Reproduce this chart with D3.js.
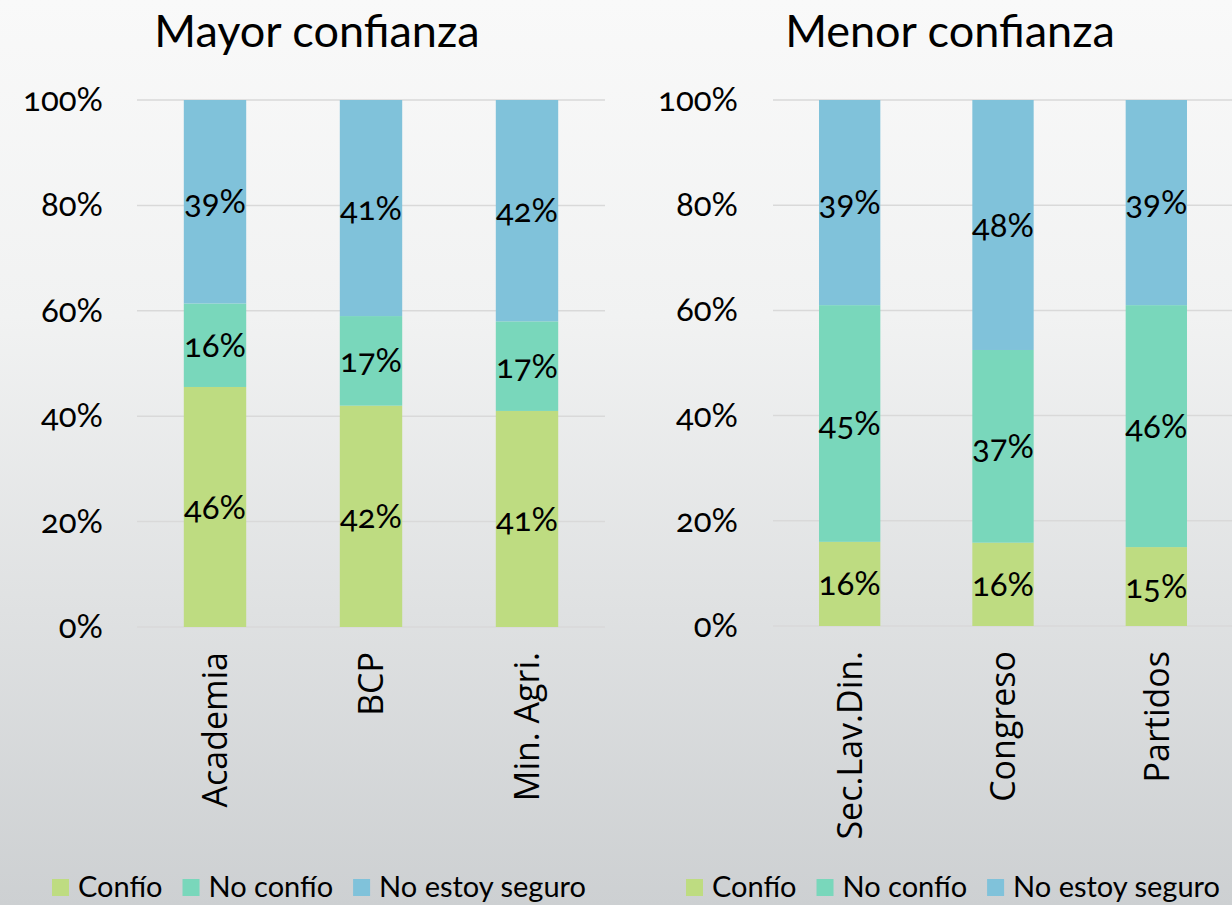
<!DOCTYPE html>
<html>
<head>
<meta charset="utf-8">
<script src="https://cdn.jsdelivr.net/npm/d3@7"></script>
<style>
  html, body { margin: 0; padding: 0; }
  body { width: 1232px; height: 905px; overflow: hidden; }
  svg { display: block; }
  .cand { font-family: Lato, "Noto Sans", sans-serif; font-variant-numeric: oldstyle-nums; }
  .cat { font-family: "Open Sans", "Noto Sans", sans-serif; }
</style>
</head>
<body>
<svg id="chart" width="1232" height="905"></svg>
<script>
// ---- data ----
const seriesNames = ["Confío", "No confío", "No estoy seguro"];
const seriesColors = ["#bedc81", "#79d7bb", "#80c2da"];
const yTicks = [0, 0.2, 0.4, 0.6, 0.8, 1.0];

const leftTitle = "Mayor confianza";
const leftCategories = ["Academia", "BCP", "Min. Agri."];
const leftConfio = [46, 42, 41];
const leftNoConfio = [16, 17, 17];
const leftNoSeguro = [39, 41, 42];

const rightTitle = "Menor confianza";
const rightCategories = ["Sec.Lav.Din.", "Congreso", "Partidos"];
const rightConfio = [16, 16, 15];
const rightNoConfio = [45, 37, 46];
const rightNoSeguro = [39, 48, 39];

const svg = d3.select("#chart");

// background gradient
const defs = svg.append("defs");
const grad = defs.append("linearGradient").attr("id", "bg").attr("x1", 0).attr("y1", 0).attr("x2", 0).attr("y2", 1);
grad.append("stop").attr("offset", "0%").attr("stop-color", "#f9f9f9");
grad.append("stop").attr("offset", "35%").attr("stop-color", "#f1f2f2");
grad.append("stop").attr("offset", "100%").attr("stop-color", "#cdd0d2");
svg.append("rect").attr("width", 1232).attr("height", 905).attr("fill", "url(#bg)");

function panel(opts) {
  const { title, categories, s1, s2, s3, x0, x1, yTop, yBot, tickRight, titleX, legendX } = opts;
  const rows = categories.map((c, i) => ({ cat: c, "Confío": s1[i], "No confío": s2[i], "No estoy seguro": s3[i] }));
  const stack = d3.stack().keys(seriesNames).offset(d3.stackOffsetExpand);
  const layers = stack(rows);

  const x = d3.scaleBand().domain(categories).range([x0, x1]).paddingInner(0.6).paddingOuter(0.3);
  const y = d3.scaleLinear().domain([0, 1]).range([yBot, yTop]);

  const g = svg.append("g");

  // gridlines
  g.selectAll("line.grid").data(yTicks).join("line")
    .attr("x1", x0).attr("x2", x1)
    .attr("y1", d => y(d)).attr("y2", d => y(d))
    .attr("stroke", "#d9d9d9").attr("stroke-width", 1.5);

  // y tick labels via axis
  const yAxis = d3.axisLeft(y).tickValues(yTicks).tickFormat(d3.format(".0%")).tickSize(0).tickPadding(0);
  const ay = g.append("g").attr("transform", `translate(${tickRight},0)`).call(yAxis);
  ay.select(".domain").remove();
  ay.selectAll("text").attr("class", "cand").attr("font-size", 33).attr("fill", "#000").attr("dy", "0.32em");

  // bars
  layers.forEach((layer, li) => {
    g.selectAll(null).data(layer).join("rect")
      .attr("x", d => x(d.data.cat))
      .attr("width", x.bandwidth())
      .attr("y", d => y(d[1]))
      .attr("height", d => y(d[0]) - y(d[1]))
      .attr("fill", seriesColors[li]);
  });
  // data labels
  const raw = [s1, s2, s3];
  layers.forEach((layer, li) => {
    g.selectAll(null).data(layer).join("text")
      .attr("class", "cand")
      .attr("x", d => x(d.data.cat) + x.bandwidth() / 2)
      .attr("y", d => (y(d[0]) + y(d[1])) / 2)
      .attr("dy", "0.35em")
      .attr("text-anchor", "middle")
      .attr("font-size", 33)
      .attr("fill", "#000")
      .text((d, i) => raw[li][i] + "%");
  });

  // category labels (rotated)
  const xAxis = d3.axisBottom(x).tickSize(0).tickPadding(0);
  const ax = g.append("g").attr("transform", `translate(0,${yBot + 25})`).call(xAxis);
  ax.select(".domain").remove();
  ax.selectAll("text")
    .attr("class", "cat")
    .attr("font-size", 34)
    .attr("fill", "#000")
    .attr("text-anchor", "end")
    .attr("transform", "rotate(-90)")
    .attr("x", 0).attr("y", 0).attr("dy", "0.36em");

  // title
  g.append("text").attr("class", "cand")
    .attr("x", titleX).attr("y", 47)
    .attr("text-anchor", "middle").attr("font-size", 45).attr("fill", "#000")
    .text(title);

  // legend
  const leg = g.append("g").attr("transform", `translate(${legendX},0)`);
  const legItems = leg.selectAll("g").data(seriesNames).join("g");
  let cx = 0;
  legItems.each(function (d, i) {
    const it = d3.select(this);
    it.append("rect").attr("x", cx).attr("y", 879).attr("width", 17).attr("height", 17).attr("fill", seriesColors[i]);
    const t = it.append("text").attr("class", "cand").attr("x", cx + 26).attr("y", 897)
      .attr("font-size", 29).attr("fill", "#000").text(d);
    cx += 26 + t.node().getComputedTextLength() + 20;
  });
}

panel({ title: leftTitle, categories: leftCategories, s1: leftConfio, s2: leftNoConfio, s3: leftNoSeguro,
  x0: 137, x1: 605, yTop: 100, yBot: 627, tickRight: 103, titleX: 317, legendX: 52 });
panel({ title: rightTitle, categories: rightCategories, s1: rightConfio, s2: rightNoConfio, s3: rightNoSeguro,
  x0: 773, x1: 1233, yTop: 100, yBot: 626, tickRight: 738, titleX: 950, legendX: 686 });
</script>
</body>
</html>
